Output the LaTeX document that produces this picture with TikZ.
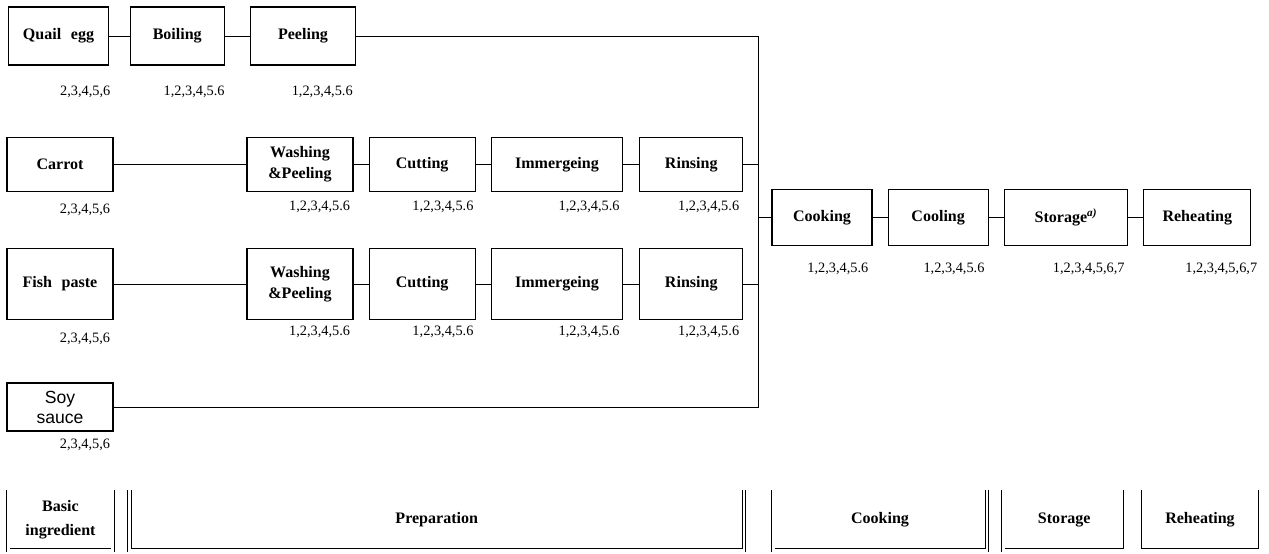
\documentclass[tikz,border=0pt]{standalone}
\usepackage{fontspec}
\setmainfont{Liberation Serif}
\newfontfamily\soyfont{Liberation Sans}
\usetikzlibrary{positioning}

\begin{document}
\begin{tikzpicture}[
    x=0.025cm, y=-0.025cm,
    box/.style={rectangle, draw, line width=0.8pt, inner sep=0pt, text centered, align=center, font=\fontsize{11.4}{15}\selectfont\bfseries},
    num/.style={inner sep=0pt, font=\fontsize{10.2}{12}\selectfont},
    stage/.style={inner sep=0pt, align=center, font=\fontsize{11.4}{17}\selectfont\bfseries},
    frame/.style={double, line width=0.5pt, double distance=2pt},
    line/.style={line width=0.7pt}
]
\useasboundingbox (0,0) rectangle (1269,553);

% Quail egg
\node[box, minimum width=2.48cm, minimum height=1.45cm] (quail) at (58.5,36) {Quail\hspace{0.35em} egg};
\node[box, minimum width=2.35cm, minimum height=1.45cm, right=0.525cm of quail] (boil) {Boiling};
\node[box, minimum width=2.63cm, minimum height=1.45cm, right=0.625cm of boil] (peel) {Peeling};

% Carrot
\node[box, minimum width=2.65cm, minimum height=1.33cm] (carrot) at (60,164.5) {Carrot};
\node[box, minimum width=2.65cm, minimum height=1.33cm] (wash1) at (300,164.5) {Washing\\\&Peeling};
\node[box, minimum width=2.65cm, minimum height=1.33cm, right=0.375cm of wash1] (cut1) {Cutting};
\node[box, minimum width=3.28cm, minimum height=1.33cm, right=0.375cm of cut1] (imm1) {Immergeing};
\node[box, minimum width=2.58cm, minimum height=1.33cm, right=0.4cm of imm1] (rinse1) {Rinsing};

% Fish paste
\node[box, minimum width=2.65cm, minimum height=1.78cm] (fish) at (60,284) {Fish\hspace{0.35em} paste};
\node[box, minimum width=2.65cm, minimum height=1.78cm] (wash2) at (300,284) {Washing\\\&Peeling};
\node[box, minimum width=2.65cm, minimum height=1.78cm, right=0.375cm of wash2] (cut2) {Cutting};
\node[box, minimum width=3.28cm, minimum height=1.78cm, right=0.375cm of cut2] (imm2) {Immergeing};
\node[box, minimum width=2.58cm, minimum height=1.78cm, right=0.4cm of imm2] (rinse2) {Rinsing};

% Soy sauce
\node[box, minimum width=2.65cm, minimum height=1.2cm, font=\soyfont\fontsize{12.5}{14.2}\selectfont] (soy) at (60,407) {Soy\\sauce};

% Cooking to reheating
\node[box, minimum width=2.5cm, minimum height=1.38cm] (cook) at (822,217.5) {Cooking};
\node[box, minimum width=2.5cm, minimum height=1.38cm, right=0.375cm of cook] (cool) {Cooling};
\node[box, minimum width=3.08cm, minimum height=1.38cm, right=0.375cm of cool] (store) {Storage\textsuperscript{\textit{a)}}};
\node[box, minimum width=2.68cm, minimum height=1.38cm, right=0.375cm of store] (reheat) {Reheating};

% Joining line
\coordinate (spine_top) at (758,36);
\coordinate (spine_bot) at (758,407);

% Lines
\draw[line] (quail) -- (boil);
\draw[line] (boil) -- (peel);
\draw[line] (peel) -- (spine_top) -- (spine_bot) -- (soy);
\draw[line] (carrot) -- (wash1);
\draw[line] (wash1) -- (cut1);
\draw[line] (cut1) -- (imm1);
\draw[line] (imm1) -- (rinse1);
\draw[line] (rinse1) -- (rinse1 -| spine_top);
\draw[line] (fish) -- (wash2);
\draw[line] (wash2) -- (cut2);
\draw[line] (cut2) -- (imm2);
\draw[line] (imm2) -- (rinse2);
\draw[line] (rinse2) -- (rinse2 -| spine_top);
\draw[line] (cook -| spine_top) -- (cook);
\draw[line] (cook) -- (cool);
\draw[line] (cool) -- (store);
\draw[line] (store) -- (reheat);

% Numbers
\node[num, below=0.5cm of quail.south east, anchor=north east, xshift=0.05cm] (quail_num) {2,3,4,5,6};
\node[num, below=0.5cm of boil.south east, anchor=north east] (boil_num) {1,2,3,4,5.6};
\node[num, below=0.5cm of peel.south east, anchor=north east, xshift=-0.08cm] (peel_num) {1,2,3,4,5.6};
\node[num, below=0.3cm of carrot.south east, anchor=north east, xshift=-0.08cm] (carrot_num) {2,3,4,5,6};
\node[num, below=0.23cm of wash1.south east, anchor=north east, xshift=-0.08cm] (wash1_num) {1,2,3,4,5.6};
\node[num, below=0.23cm of cut1.south east, anchor=north east, xshift=-0.05cm] (cut1_num) {1,2,3,4,5.6};
\node[num, below=0.23cm of imm1.south east, anchor=north east, xshift=-0.08cm] (imm1_num) {1,2,3,4,5.6};
\node[num, below=0.23cm of rinse1.south east, anchor=north east, xshift=-0.1cm] (rinse1_num) {1,2,3,4,5.6};
\node[num, below=0.31cm of fish.south east, anchor=north east, xshift=-0.08cm] (fish_num) {2,3,4,5,6};
\node[num, below=0.14cm of wash2.south east, anchor=north east, xshift=-0.08cm] (wash2_num) {1,2,3,4,5.6};
\node[num, below=0.14cm of cut2.south east, anchor=north east, xshift=-0.05cm] (cut2_num) {1,2,3,4,5.6};
\node[num, below=0.14cm of imm2.south east, anchor=north east, xshift=-0.08cm] (imm2_num) {1,2,3,4,5.6};
\node[num, below=0.14cm of rinse2.south east, anchor=north east, xshift=-0.1cm] (rinse2_num) {1,2,3,4,5.6};
\node[num, below=0.18cm of soy.south east, anchor=north east, xshift=-0.08cm] (soy_num) {2,3,4,5,6};
\node[num, below=0.43cm of cook.south east, anchor=north east, xshift=-0.1cm] (cook_num) {1,2,3,4,5.6};
\node[num, below=0.43cm of cool.south east, anchor=north east, xshift=-0.1cm] (cool_num) {1,2,3,4,5.6};
\node[num, below=0.43cm of store.south east, anchor=north east, xshift=-0.08cm] (store_num) {1,2,3,4,5,6,7};
\node[num, below=0.43cm of reheat.south east, anchor=north east, xshift=0.15cm] (reheat_num) {1,2,3,4,5,6,7};

% Stages
\node[stage, minimum width=2.6cm, minimum height=1.5cm] (st_basic) at (60.5,520) {Basic\\ingredient};
\node[stage, minimum width=15.34cm, minimum height=1.5cm] (st_prep) at (436.75,520) {Preparation};
\node[stage, minimum width=5.33cm, minimum height=1.5cm] (st_cook) at (880,520) {Cooking};
\node[stage, minimum width=3.04cm, minimum height=1.5cm] (st_store) at (1064.25,520) {Storage};
\node[stage, minimum width=3.0cm, minimum height=1.5cm] (st_reheat) at (1200,520) {Reheating};
\foreach \s in {st_basic, st_prep, st_cook, st_store, st_reheat}
    \draw[frame] (\s.north west) |- (\s.south east) -- (\s.north east);

\end{tikzpicture}
\end{document}
